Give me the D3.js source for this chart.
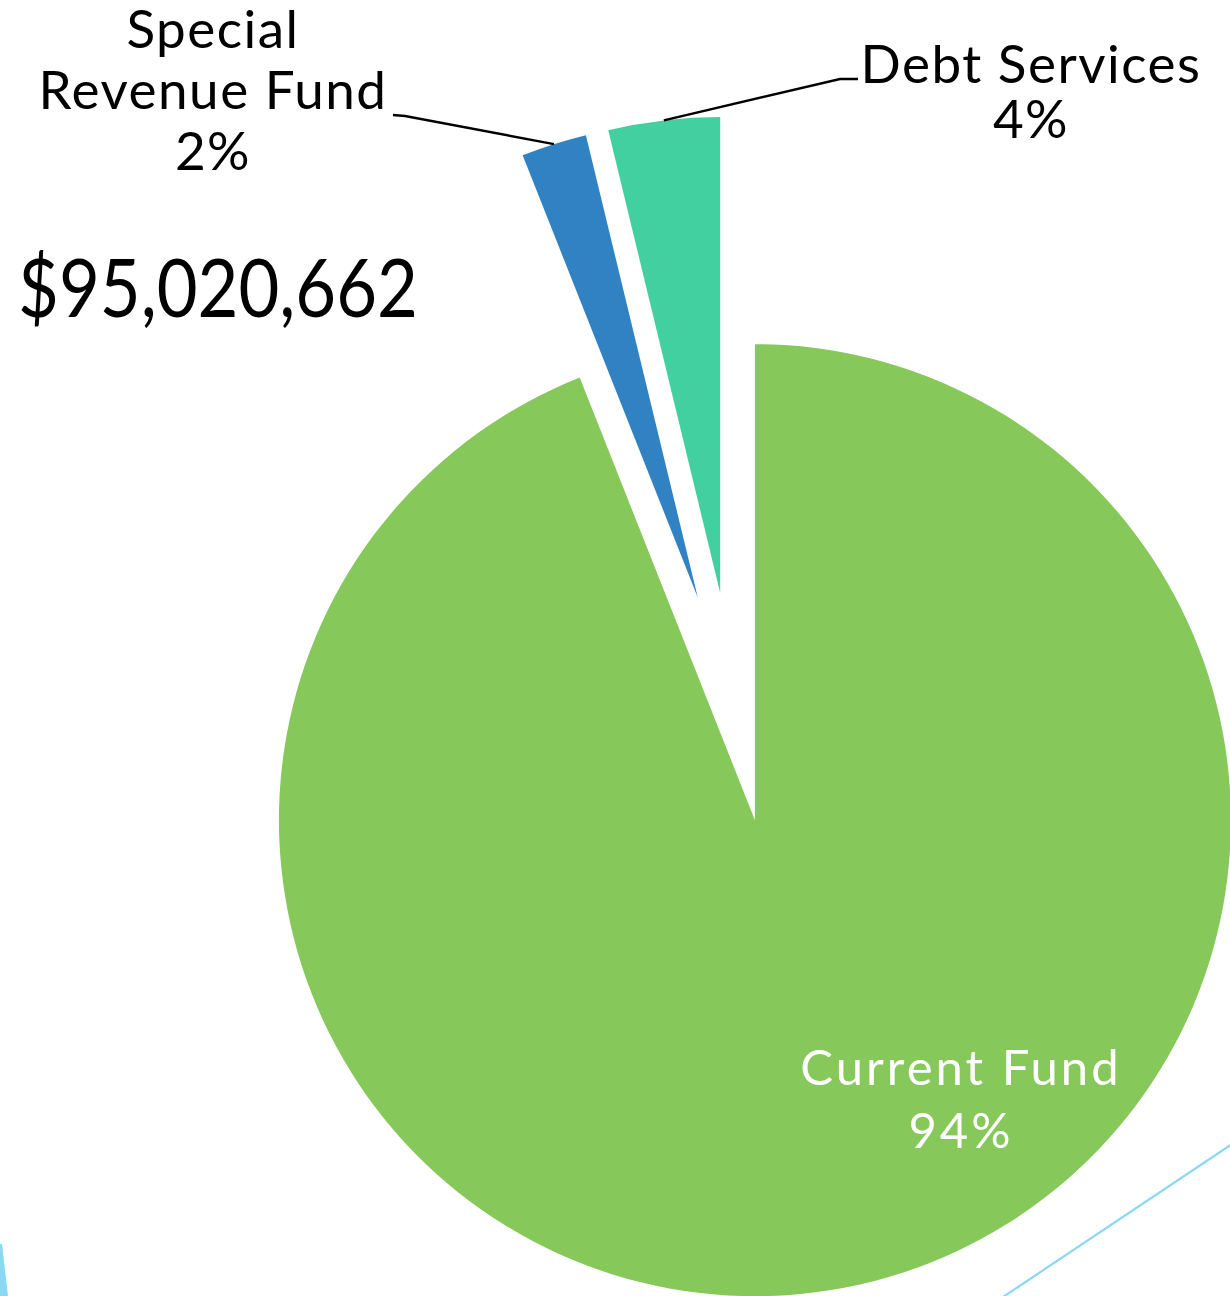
<!DOCTYPE html>
<html lang="en">
<head>
  <meta charset="UTF-8" />
  <title>Fund Distribution</title>
  <style>
    body { margin: 0; background: #fff; }
    svg { display: block; }
    text { font-family: Lato, "Open Sans", sans-serif; }
  </style>
</head>
<body>
  <div id="chart"></div>

  <script src="https://cdnjs.cloudflare.com/ajax/libs/d3/7.8.5/d3.min.js"></script>
  <script>
    // data
    const categories = ["Current Fund", "Special Revenue Fund", "Debt Services"];
    const amounts = [89320000, 2110000, 3590662];
    const total = 95020662;

    const width = 1230, height = 1296;
    const radius = 476;
    const cx = 734.6, cy = 713.6;

    const colors = ["#86c85a", "#3182c2", "#43d0a0"];
    const explode = { "Current Fund": 108.5, "Special Revenue Fund": 121.5, "Debt Services": 121.5 };

    const svg = d3.select("#chart").append("svg")
      .attr("width", width).attr("height", height);

    // decorative slide lines
    svg.append("path")
      .attr("d", "M0,1244 L2,1244 L8,1296 L0,1296 Z")
      .attr("fill", "#8ad8f2");
    svg.append("line")
      .attr("x1", 1232).attr("y1", 1144).attr("x2", 1003).attr("y2", 1297)
      .attr("stroke", "#8ad8f2").attr("stroke-width", 2.2);

    const pie = d3.pie().sort(null).value(d => d.value);
    const arcs = pie(categories.map((c, i) => ({ name: c, value: amounts[i] })));
    const arc = d3.arc().innerRadius(0).outerRadius(radius);

    const g = svg.append("g").attr("transform", `translate(${cx},${cy})`);

    function offset(d) {
      const mid = (d.startAngle + d.endAngle) / 2;
      const e = explode[d.data.name];
      return [Math.sin(mid) * e, -Math.cos(mid) * e];
    }

    g.selectAll("path.slice")
      .data(arcs)
      .enter()
      .append("path")
      .attr("class", "slice")
      .attr("d", arc)
      .attr("fill", (d, i) => colors[i])
      .attr("transform", d => `translate(${offset(d)})`);

    const pct = d => d3.format(".0%")(d.data.value / total);

    // outside labels with leader lines
    const outside = {
      "Special Revenue Fund": { lines: ["Special", "Revenue Fund"], x: 213, y: 48, gap: 61, leader: [[393, 115], [405, 116]] },
      "Debt Services": { lines: ["Debt Services"], x: 1031, y: 83, gap: 55, leader: [[858, 79], [840, 79]] }
    };

    arcs.filter(d => outside[d.data.name]).forEach(d => {
      const o = outside[d.data.name];
      const [ox, oy] = offset(d);
      const mid = (d.startAngle + d.endAngle) / 2;
      const px = cx + ox + Math.sin(mid) * radius;
      const py = cy + oy - Math.cos(mid) * radius;
      svg.append("path")
        .attr("d", d3.line()(o.leader.concat([[px, py]])))
        .attr("fill", "none")
        .attr("stroke", "#000")
        .attr("stroke-width", 2.4);

      o.lines.concat([pct(d)]).forEach((s, k) => {
        svg.append("text")
          .attr("x", o.x).attr("y", o.y + k * o.gap)
          .attr("text-anchor", "middle")
          .attr("font-size", 53)
          .attr("letter-spacing", 1.5)
          .attr("fill", "#000")
          .text(s);
      });
    });

    // inside label
    const cf = arcs[0];
    [cf.data.name, pct(cf)].forEach((s, k) => {
      svg.append("text")
        .attr("x", 961).attr("y", 1085 + k * 63)
        .attr("text-anchor", "middle")
        .attr("font-size", 49)
        .attr("letter-spacing", 3)
        .attr("fill", "#fff")
        .text(s);
    });

    // total
    svg.append("text")
      .attr("x", 18).attr("y", 317)
      .attr("font-size", 82)
      .attr("fill", "#000")
      .attr("textLength", 400)
      .attr("lengthAdjust", "spacingAndGlyphs")
      .text(d3.format("$,")(total));
  </script>
</body>
</html>
